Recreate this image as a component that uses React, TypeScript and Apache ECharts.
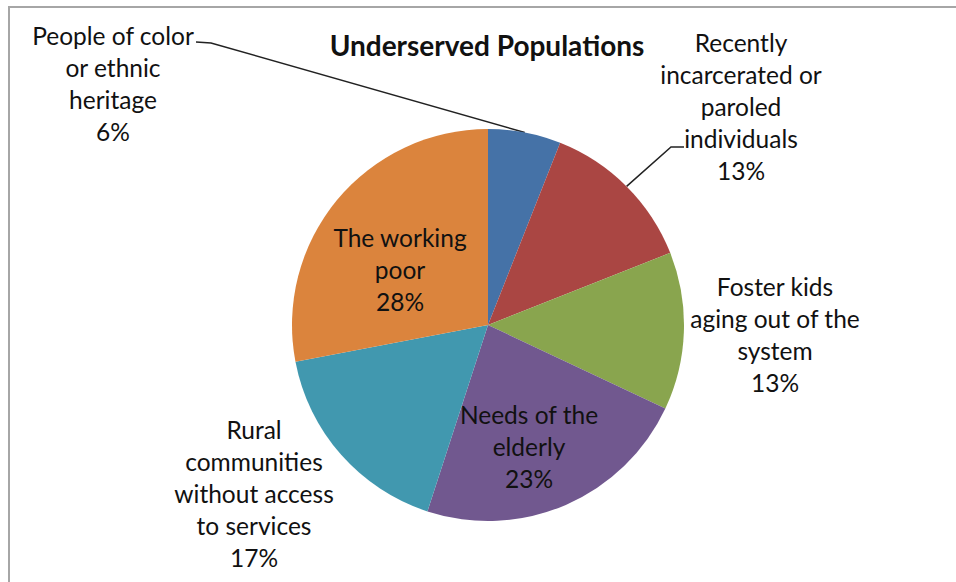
import React, { useEffect, useRef } from 'react';
import * as echarts from 'echarts';

const categories = [
  'People of color\nor ethnic\nheritage',
  'Recently\nincarcerated or\nparoled\nindividuals',
  'Foster kids\naging out of the\nsystem',
  'Needs of the\nelderly',
  'Rural\ncommunities\nwithout access\nto services',
  'The working\npoor',
];
const values = [6, 13, 13, 23, 17, 28];
const colors = ['#4572A7', '#AA4643', '#89A54E', '#71588F', '#4198AF', '#DB843D'];
const titleText = 'Underserved Populations';

// label layout (centres of each label block) and leader-line ends (elbow, end)
const labelCenters: [number, number][] = [
  [113, 83],
  [741, 106],
  [775, 334],
  [529, 446],
  [254, 493],
  [400, 269],
];
const leaderEnds: ([number, number][] | null)[] = [
  [[211, 43], [196, 42]],
  [[671, 147], [684, 147]],
  null,
  null,
  null,
  null,
];

const FONT = 'Lato, "Open Sans", sans-serif';

export default function App() {
  const ref = useRef<HTMLDivElement>(null);
  useEffect(() => {
    if (!ref.current) return;
    const chart = echarts.init(ref.current, null, { renderer: 'svg' });
    chart.setOption({
      animation: false,
      backgroundColor: '#ffffff',
      title: {
        text: titleText,
        left: 482,
        textAlign: 'center',
        top: 26,
        textStyle: { fontFamily: FONT, fontSize: 28, fontWeight: 'bold', color: '#111' },
      },
      graphic: [
        {
          type: 'rect',
          shape: { x: 9, y: 7, width: 1200, height: 1000 },
          style: { fill: 'none', stroke: '#a6a6a6', lineWidth: 2 },
          silent: true,
          z: -1,
        },
      ],
      series: [
        {
          type: 'pie',
          center: [488, 325],
          radius: 196,
          startAngle: 90,
          clockwise: true,
          avoidLabelOverlap: false,
          itemStyle: { borderWidth: 0 },
          label: {
            show: true,
            position: 'outside',
            formatter: (p: any) => `${p.name}\n${p.value}%`,
            fontFamily: FONT,
            fontSize: 24.5,
            lineHeight: 32,
            color: '#111',
            align: 'center',
          },
          labelLine: {
            show: true,
            lineStyle: { color: '#222', width: 1.5 },
          },
          labelLayout: (params: any) => {
            const i = params.dataIndex;
            const c = labelCenters[i];
            const out: any = { x: c[0], y: c[1], align: 'center', verticalAlign: 'middle' };
            const ends = leaderEnds[i];
            if (ends && params.labelLinePoints && params.labelLinePoints[0]) {
              const a = params.labelLinePoints[0];
              out.labelLinePoints = [[a[0], a[1]], ends[0], ends[1]];
            }
            return out;
          },
          data: categories.map((name, i) => ({
            name,
            value: values[i],
            itemStyle: { color: colors[i] },
            labelLine: { show: leaderEnds[i] != null },
          })),
        },
      ],
    });
    return () => chart.dispose();
  }, []);
  return (
    <div
      ref={ref}
      style={{ position: 'fixed', left: 0, top: 0, width: 956, height: 582 }}
    />
  );
}
